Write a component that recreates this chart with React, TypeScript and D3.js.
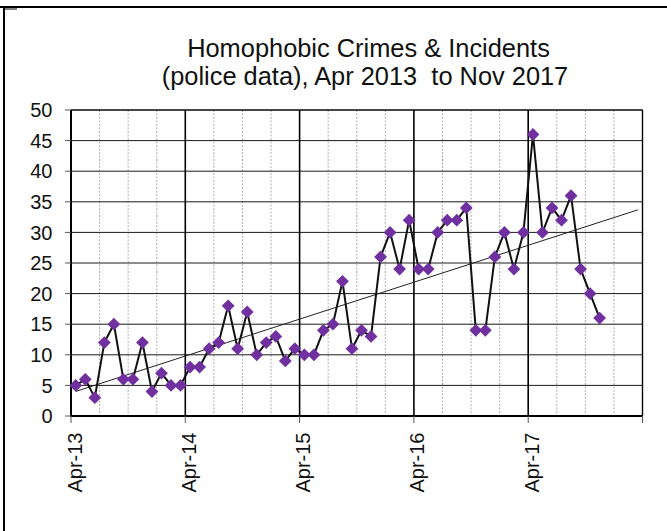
import React from "react";
import * as d3 from "d3";

// Monthly homophobic crimes & incidents, April 2013 to November 2017
const startLabel = "Apr 2013";
const yearLabels = ["Apr-13", "Apr-14", "Apr-15", "Apr-16", "Apr-17"];
const counts2013 = [5, 6, 3, 12, 15, 6, 6, 12, 4, 7, 5, 5];
const counts2014 = [8, 8, 11, 12, 18, 11, 17, 10, 12, 13, 9, 11];
const counts2015 = [10, 10, 14, 15, 22, 11, 14, 13, 26, 30, 24, 32];
const counts2016 = [24, 24, 30, 32, 32, 34, 14, 14, 26, 30, 24, 30];
const counts2017 = [46, 30, 34, 32, 36, 24, 20, 16];
const yTicks = [0, 5, 10, 15, 20, 25, 30, 35, 40, 45, 50];
const titleLines = ["Homophobic Crimes & Incidents", `(police data), ${startLabel}  to Nov 2017`];

const counts = [...counts2013, ...counts2014, ...counts2015, ...counts2016, ...counts2017];
const forecastMonths = 4;
const totalMonths = 60;

const W = 667;
const H = 531;
const plot = { left: 71, right: 642.5, top: 110, bottom: 416 };
const font = "'Liberation Sans', Arial, sans-serif";

export default function App() {
  const x = d3.scaleLinear().domain([0, totalMonths]).range([plot.left, plot.right]);
  const y = d3.scaleLinear().domain([0, 50]).range([plot.bottom, plot.top]);

  // points sit mid-month
  const px = (i: number) => x(i + 0.5);

  const line = d3
    .line<number>()
    .x((_, i) => px(i))
    .y((d) => y(d));

  // least-squares trend over month index
  const n = counts.length;
  const mx = d3.mean(d3.range(n)) as number;
  const my = d3.mean(counts) as number;
  const sxy = d3.sum(counts, (v, i) => (i - mx) * (v - my));
  const sxx = d3.sum(d3.range(n), (i) => (i - mx) * (i - mx));
  const slope = sxy / sxx;
  const intercept = my - slope * mx;
  const trendEnd = n - 1 + forecastMonths;

  const quarters = d3.range(3, totalMonths, 3).filter((m) => m % 12 !== 0);
  const years = d3.range(12, totalMonths, 12);
  const xTickMonths = d3.range(0, totalMonths + 1, 12);

  const diamond = (cx: number, cy: number, r: number) =>
    `M${cx},${cy - r}L${cx + r},${cy}L${cx},${cy + r}L${cx - r},${cy}Z`;

  return (
    <svg
      width={W}
      height={H}
      style={{ position: "absolute", left: 0, top: 0, background: "#fff" }}
      fontFamily={font}
    >
      {/* outer frame */}
      <line x1={0} x2={W} y1={7} y2={7} stroke="#000" strokeWidth={1.8} />
      <line x1={4} x2={4} y1={7} y2={H} stroke="#000" strokeWidth={2} />
      <line x1={4} x2={17} y1={9} y2={9} stroke="#000" strokeWidth={1} />

      {/* title */}
      <text x={368.5} y={56.5} textAnchor="middle" fontSize={25.4} fill="#111">
        {titleLines[0]}
      </text>
      <text x={365} y={85} textAnchor="middle" fontSize={25.4} fill="#111" style={{ whiteSpace: "pre" }}>
        {titleLines[1]}
      </text>

      {/* quarterly dashed grid */}
      {quarters.map((m) => (
        <line
          key={`q${m}`}
          x1={x(m)}
          x2={x(m)}
          y1={plot.top}
          y2={plot.bottom}
          stroke="#9a9a9a"
          strokeWidth={0.8}
          strokeDasharray="2,1.5"
        />
      ))}

      {/* horizontal grid */}
      {yTicks.slice(1).map((t) => (
        <line key={`h${t}`} x1={plot.left} x2={plot.right} y1={y(t)} y2={y(t)} stroke="#1a1a1a" strokeWidth={1} />
      ))}

      {/* yearly grid */}
      {years.map((m) => (
        <line key={`y${m}`} x1={x(m)} x2={x(m)} y1={plot.top} y2={plot.bottom} stroke="#000" strokeWidth={1.6} />
      ))}

      {/* plot border */}
      <line x1={plot.right} x2={plot.right} y1={plot.top} y2={plot.bottom} stroke="#000" strokeWidth={1.4} />
      <line x1={plot.left} x2={plot.right} y1={plot.top} y2={plot.top} stroke="#000" strokeWidth={1.2} />
      <line x1={plot.left} x2={plot.left} y1={plot.top} y2={plot.bottom + 1} stroke="#000" strokeWidth={2} />
      <line x1={plot.left - 1} x2={plot.right} y1={plot.bottom} y2={plot.bottom} stroke="#000" strokeWidth={2} />

      {/* y axis ticks and labels */}
      {yTicks.map((t) => (
        <g key={`yt${t}`}>
          <line x1={plot.left - 6} x2={plot.left} y1={y(t)} y2={y(t)} stroke="#555" strokeWidth={1} />
          <text x={52.5} y={y(t)} dy="0.36em" textAnchor="end" fontSize={20} fill="#111">
            {t}
          </text>
        </g>
      ))}

      {/* x axis ticks and labels */}
      {xTickMonths.map((m) => (
        <line key={`xt${m}`} x1={x(m)} x2={x(m)} y1={plot.bottom} y2={plot.bottom + 7} stroke="#555" strokeWidth={1} />
      ))}
      {yearLabels.map((lab, i) => {
        const tx = x(i * 12) + 10.5;
        const ty = plot.bottom + 16.5;
        return (
          <text
            key={lab}
            transform={`translate(${tx},${ty}) rotate(-90)`}
            textAnchor="end"
            fontSize={20}
            fill="#111"
          >
            {lab}
          </text>
        );
      })}

      {/* trend line */}
      <line
        x1={px(0)}
        y1={y(intercept)}
        x2={px(trendEnd)}
        y2={y(intercept + slope * trendEnd)}
        stroke="#222"
        strokeWidth={1}
      />

      {/* monthly series */}
      <path d={line(counts) || ""} fill="none" stroke="#111" strokeWidth={2} strokeLinejoin="round" />
      {counts.map((v, i) => (
        <path key={`p${i}`} d={diamond(px(i), y(v), 6.4)} fill="#7030a0" />
      ))}
    </svg>
  );
}
